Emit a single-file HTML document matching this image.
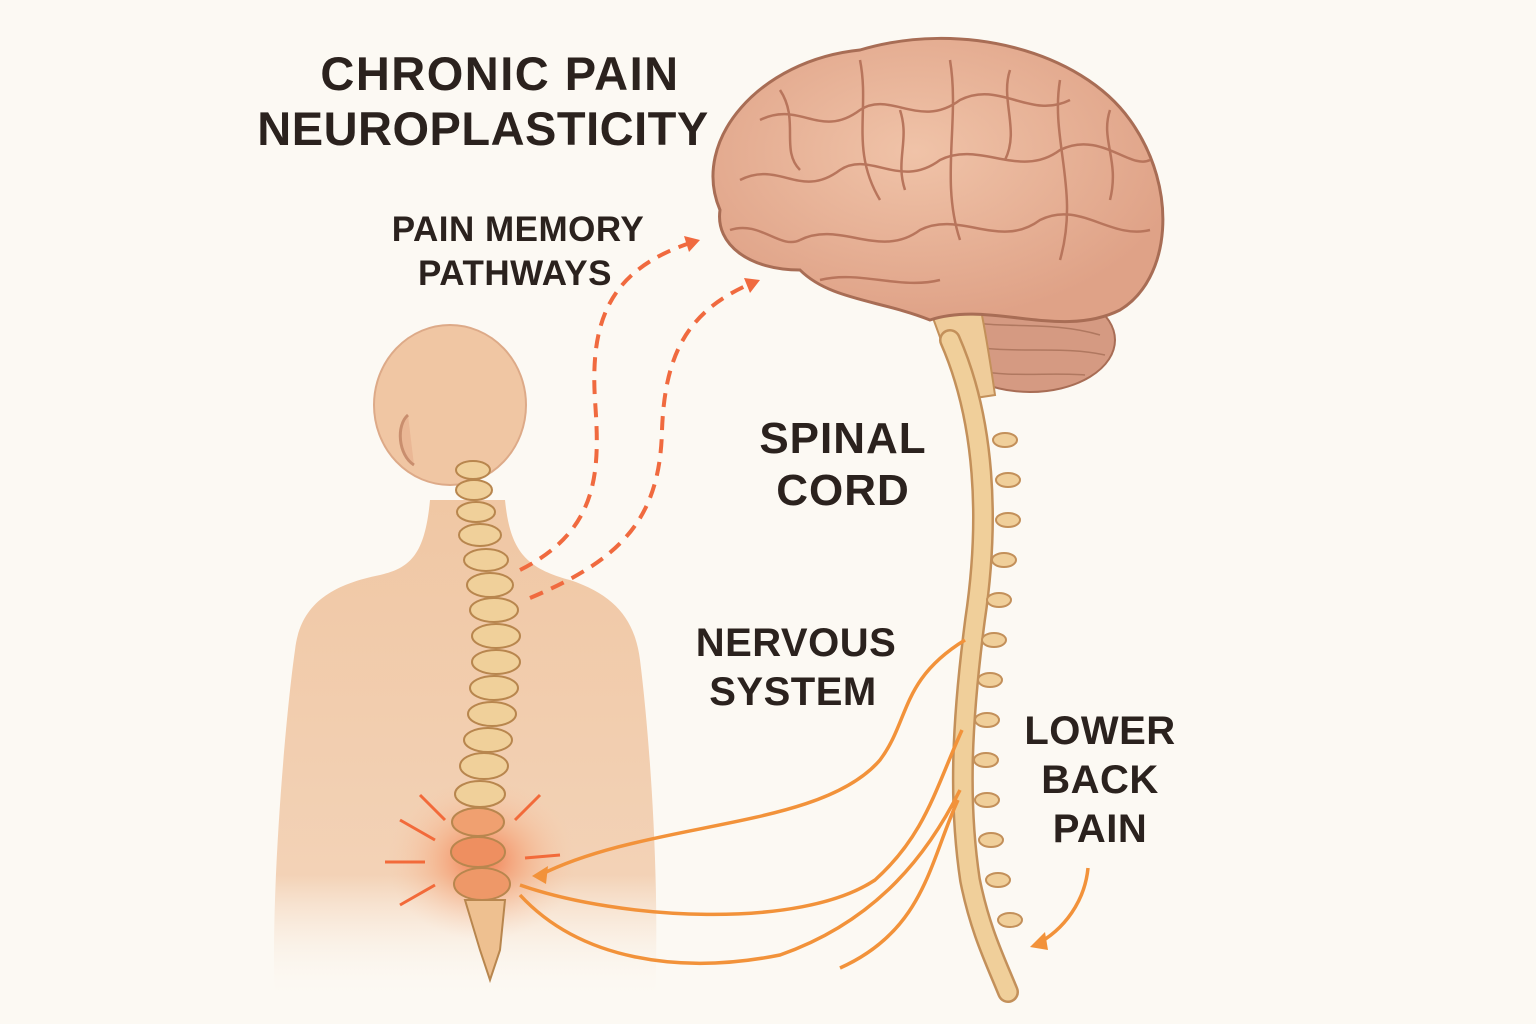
<!DOCTYPE html>
<html><head><meta charset="utf-8"><style>
html,body{margin:0;padding:0;background:#fcf9f3;}
svg{display:block}
text{font-family:"Liberation Sans",sans-serif;font-weight:bold;fill:#2b221e;text-anchor:middle}
</style></head><body>
<svg width="1536" height="1024" viewBox="0 0 1536 1024" xmlns="http://www.w3.org/2000/svg">
<defs>
<radialGradient id="glow" cx="0.5" cy="0.5" r="0.5">
<stop offset="0" stop-color="#f26a3a" stop-opacity="0.85"/>
<stop offset="0.5" stop-color="#f59a6a" stop-opacity="0.4"/>
<stop offset="1" stop-color="#f8c8a8" stop-opacity="0"/>
</radialGradient>
<linearGradient id="bodyfade" x1="0" y1="0" x2="0" y2="1">
<stop offset="0" stop-color="#f0c7a4"/>
<stop offset="0.75" stop-color="#f3d2b6"/>
<stop offset="1" stop-color="#fcf9f3" stop-opacity="0"/>
</linearGradient>
<radialGradient id="brainG" cx="0.45" cy="0.4" r="0.6">
<stop offset="0" stop-color="#f0c3a8"/>
<stop offset="1" stop-color="#dfa287"/>
</radialGradient>
</defs>
<rect width="1536" height="1024" fill="#fcf9f3"/>

<text x="500" y="90" font-size="47" letter-spacing="1.5">CHRONIC PAIN</text>
<text x="483" y="145" font-size="47" letter-spacing="0.5">NEUROPLASTICITY</text>
<text x="518" y="241" font-size="35" letter-spacing="0.5">PAIN MEMORY</text>
<text x="515" y="285" font-size="35" letter-spacing="0.5">PATHWAYS</text>
<text x="843" y="453" font-size="44" letter-spacing="1">SPINAL</text>
<text x="843" y="505" font-size="44" letter-spacing="1">CORD</text>
<text x="796" y="656" font-size="40" letter-spacing="0.5">NERVOUS</text>
<text x="793" y="705" font-size="40" letter-spacing="0.5">SYSTEM</text>
<text x="1100" y="744" font-size="40" letter-spacing="0.5">LOWER</text>
<text x="1100" y="793" font-size="40" letter-spacing="0.5">BACK</text>
<text x="1100" y="842" font-size="40" letter-spacing="0.5">PAIN</text>

<path d="M275 1000 C270 900 285 720 295 650 C300 605 330 585 380 575 C410 568 425 555 430 500 L505 500 C510 550 525 568 570 580 C615 595 635 620 640 660 C650 740 660 880 655 1000 Z" fill="url(#bodyfade)"/>
<ellipse cx="450" cy="405" rx="76" ry="80" fill="#f0c6a3" stroke="#ddaa88" stroke-width="2"/>
<path d="M408 415 C396 425 398 455 414 465" stroke="#c98e6e" stroke-width="3" fill="#eab795"/>

<ellipse cx="482" cy="860" rx="95" ry="80" fill="url(#glow)"/>
<g fill="#f0d09a" stroke="#b8864e" stroke-width="2">
<ellipse cx="473" cy="470" rx="17" ry="9"/><ellipse cx="474" cy="490" rx="18" ry="10"/>
<ellipse cx="476" cy="512" rx="19" ry="10"/><ellipse cx="480" cy="535" rx="21" ry="11"/>
<ellipse cx="486" cy="560" rx="22" ry="11"/><ellipse cx="490" cy="585" rx="23" ry="12"/>
<ellipse cx="494" cy="610" rx="24" ry="12"/><ellipse cx="496" cy="636" rx="24" ry="12"/>
<ellipse cx="496" cy="662" rx="24" ry="12"/><ellipse cx="494" cy="688" rx="24" ry="12"/>
<ellipse cx="492" cy="714" rx="24" ry="12"/><ellipse cx="488" cy="740" rx="24" ry="12"/>
<ellipse cx="484" cy="766" rx="24" ry="13"/><ellipse cx="480" cy="794" rx="25" ry="13"/>
<ellipse cx="478" cy="822" rx="26" ry="14" fill="#f0a070"/><ellipse cx="478" cy="852" rx="27" ry="15" fill="#ee8f60"/>
<ellipse cx="482" cy="884" rx="28" ry="16" fill="#ee9868"/>
<path d="M465 900 L505 900 L500 950 L490 980 L480 950 Z" fill="#eec090"/>
</g>
<g stroke="#f26a3a" stroke-width="3">
<line x1="400" y1="820" x2="435" y2="840"/><line x1="385" y1="862" x2="425" y2="862"/>
<line x1="400" y1="905" x2="435" y2="885"/><line x1="540" y1="795" x2="515" y2="820"/>
<line x1="560" y1="855" x2="525" y2="858"/><line x1="420" y1="795" x2="445" y2="820"/>
</g>

<g fill="none" stroke="#f06a3f" stroke-width="4" stroke-dasharray="14 9">
<path d="M520 570 C600 530 600 470 595 400 C590 320 610 270 690 243"/>
<path d="M530 598 C620 560 660 520 662 430 C665 350 690 310 752 283"/>
</g>
<path d="M700 240 L684 236 L689 252 Z" fill="#f06a3f"/>
<path d="M760 280 L744 278 L750 293 Z" fill="#f06a3f"/>

<ellipse cx="1030" cy="340" rx="85" ry="52" fill="#d59a82" stroke="#a86d55" stroke-width="2"/>
<g fill="none" stroke="#b07860" stroke-width="1.5">
<path d="M960 320 C1000 330 1050 320 1100 335"/><path d="M965 345 C1010 355 1060 345 1105 355"/><path d="M975 370 C1010 378 1050 372 1085 375"/>
</g>
<path d="M930 310 C945 350 955 380 962 400 L995 395 C990 360 985 330 980 305 Z" fill="#efcc9a" stroke="#c3905a" stroke-width="2"/>
<path d="M720 210 C690 140 760 60 860 50 C960 20 1080 50 1130 120 C1180 190 1170 280 1120 310 C1060 340 990 300 930 320 C880 300 830 300 800 270 C750 270 715 245 720 210 Z" fill="url(#brainG)" stroke="#a86d55" stroke-width="3"/>
<g fill="none" stroke="#b8755c" stroke-width="2.5">
<path d="M760 120 C800 100 820 140 860 110 C890 90 920 130 960 100 C1000 80 1030 120 1070 100"/>
<path d="M740 180 C780 160 800 200 840 170 C870 150 900 190 940 160 C980 140 1020 180 1060 150 C1100 130 1130 170 1150 160"/>
<path d="M800 240 C840 220 880 260 920 230 C960 210 1000 250 1040 220 C1080 200 1110 240 1150 230"/>
<path d="M950 60 C960 120 940 180 960 240"/>
<path d="M860 60 C870 110 850 150 880 200"/>
<path d="M1060 80 C1050 140 1080 190 1060 260"/>
<path d="M780 90 C800 120 780 150 800 170"/>
<path d="M1010 70 C1000 100 1020 130 1005 160"/>
<path d="M1110 110 C1100 140 1120 160 1110 200"/>
<path d="M820 280 C860 270 900 290 940 280"/>
<path d="M730 230 C760 220 780 250 800 240"/>
<path d="M900 110 C910 140 895 160 905 190"/>
</g>

<path d="M950 340 C985 420 990 520 975 620 C962 720 958 800 970 880 C980 930 995 960 1008 992" fill="none" stroke="#c3905a" stroke-width="22" stroke-linecap="round"/>
<path d="M950 340 C985 420 990 520 975 620 C962 720 958 800 970 880 C980 930 995 960 1008 992" fill="none" stroke="#f0cf9a" stroke-width="17" stroke-linecap="round"/>
<g fill="#f0cf9a" stroke="#c3905a" stroke-width="2">
<ellipse cx="1005" cy="440" rx="12" ry="7"/><ellipse cx="1008" cy="480" rx="12" ry="7"/>
<ellipse cx="1008" cy="520" rx="12" ry="7"/><ellipse cx="1004" cy="560" rx="12" ry="7"/>
<ellipse cx="999" cy="600" rx="12" ry="7"/><ellipse cx="994" cy="640" rx="12" ry="7"/>
<ellipse cx="990" cy="680" rx="12" ry="7"/><ellipse cx="987" cy="720" rx="12" ry="7"/>
<ellipse cx="986" cy="760" rx="12" ry="7"/><ellipse cx="987" cy="800" rx="12" ry="7"/>
<ellipse cx="991" cy="840" rx="12" ry="7"/><ellipse cx="998" cy="880" rx="12" ry="7"/>
<ellipse cx="1010" cy="920" rx="12" ry="7"/>
</g>

<g fill="none" stroke="#f2923a" stroke-width="3.5">
<path d="M965 640 C900 680 910 720 880 760 C820 830 650 820 540 875"/>
<path d="M962 730 C935 790 925 835 875 880 C800 930 620 920 520 885"/>
<path d="M960 790 C930 850 880 920 780 955 C680 975 580 960 520 895"/>
<path d="M958 800 C930 860 925 930 840 968"/>
</g>
<path d="M532 876 L548 866 L546 884 Z" fill="#f2923a"/>
<path d="M1088 868 C1085 900 1065 930 1035 945" fill="none" stroke="#f2923a" stroke-width="3.5"/>
<path d="M1030 947 L1045 932 L1048 950 Z" fill="#f2923a"/>
</svg>
</body></html>
